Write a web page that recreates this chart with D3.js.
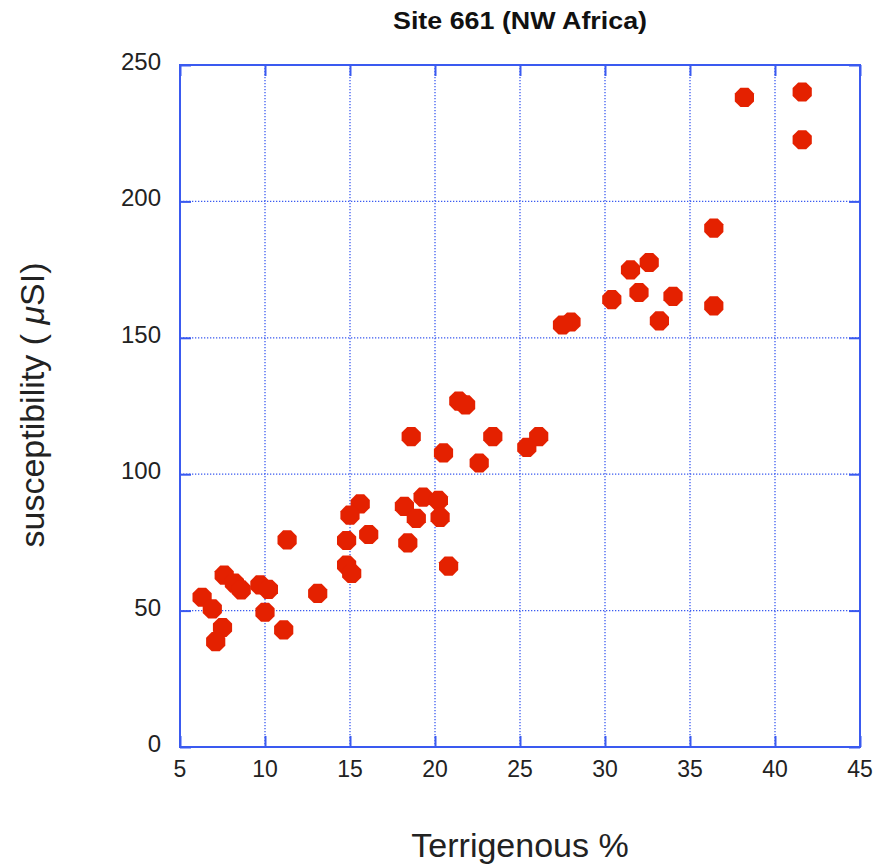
<!DOCTYPE html>
<html><head><meta charset="utf-8">
<script src="https://cdn.jsdelivr.net/npm/d3@7"></script>
<style>body{margin:0;background:#fff}</style>
</head><body>
<svg id="c" width="883" height="864"></svg>
<script>
const terrigenous = [41.6,41.6,38.2,36.4,36.4,32.6,31.5,32.0,34.0,30.4,33.2,28.0,27.5,
  21.4,21.8,18.6,23.4,26.1,25.4,20.5,22.6,19.3,20.2,15.6,18.2,15.0,18.9,20.3,16.1,14.8,18.4,11.3,
  14.8,15.1,20.8,7.6,8.2,8.6,9.7,10.2,6.3,6.9,10.0,13.1,11.1,7.5,7.1];
const susceptibility = [240.1,222.6,238.1,190.2,161.7,177.6,174.9,166.6,165.2,164.0,156.2,155.8,154.7,
  126.8,125.4,113.8,113.8,113.8,109.8,107.8,104.1,91.6,90.4,89.1,88.2,85.0,83.8,84.2,77.9,75.7,74.8,75.9,
  66.7,63.6,66.3,63.0,60.1,57.6,59.4,57.8,54.9,50.6,49.4,56.3,42.9,43.8,38.6];
const xTicks = [5,10,15,20,25,30,35,40,45];
const yTicks = [0,50,100,150,200,250];

const svg = d3.select("#c");
const L=180,R=860,T=65,B=747;
const x = d3.scaleLinear().domain([5,45]).range([L,R]);
const y = d3.scaleLinear().domain([0,250]).range([B,T]);
const blue = "#3a5af0";
const g = svg.append("g");
// grid
g.selectAll("line.vg").data(xTicks.slice(1,-1)).join("line")
  .attr("x1",d=>x(d)).attr("x2",d=>x(d)).attr("y1",T).attr("y2",B)
  .attr("stroke",blue).attr("stroke-width",1.3).attr("stroke-dasharray","1.3,1.7");
g.selectAll("line.hg").data(yTicks.slice(1,-1)).join("line")
  .attr("y1",d=>y(d)).attr("y2",d=>y(d)).attr("x1",L).attr("x2",R)
  .attr("stroke",blue).attr("stroke-width",1.3).attr("stroke-dasharray","1.3,1.7");
// axes with inward ticks
const ax = (gen, tr) => svg.append("g").attr("transform",tr).call(gen)
  .call(s=>{s.select(".domain").remove(); s.selectAll("line").attr("stroke",blue).attr("stroke-width",2); s.selectAll("text").remove();});
ax(d3.axisBottom(x).tickValues(xTicks).tickSize(-11),`translate(0,${B})`);
ax(d3.axisTop(x).tickValues(xTicks).tickSize(-11),`translate(0,${T})`);
ax(d3.axisLeft(y).tickValues(yTicks).tickSize(-11),`translate(${L},0)`);
ax(d3.axisRight(y).tickValues(yTicks).tickSize(-11),`translate(${R},0)`);
svg.append("rect").attr("x",L).attr("y",T).attr("width",R-L).attr("height",B-T)
  .attr("fill","none").attr("stroke",blue).attr("stroke-width",2);
// tick labels
const font = "Liberation Sans, Arial, Helvetica, sans-serif";
svg.selectAll("text.xl").data(xTicks).join("text")
  .attr("x",d=>x(d)).attr("y",B+30).attr("text-anchor","middle")
  .attr("font-family",font).attr("font-size",23).attr("fill","#222").text(d=>d);
svg.selectAll("text.yl").data(yTicks).join("text")
  .attr("x",L-19).attr("y",d=>y(d)+5).attr("text-anchor","end")
  .attr("font-family",font).attr("font-size",24).attr("fill","#222").text(d=>d);
// points (octagons)
const oct = d3.symbol().type({draw(ctx,size){const r=Math.sqrt(size);for(let i=0;i<8;i++){const a=Math.PI/8+i*Math.PI/4;const px=r*Math.cos(a),py=r*Math.sin(a);i?ctx.lineTo(px,py):ctx.moveTo(px,py);}ctx.closePath();}}).size(108);
svg.append("g").selectAll("path").data(terrigenous.map((t,i)=>[t,susceptibility[i]])).join("path")
  .attr("transform",d=>`translate(${x(d[0])},${y(d[1])})`).attr("d",oct)
  .attr("fill","#e42100");
// titles
svg.append("text").attr("x",520).attr("y",29).attr("text-anchor","middle")
  .attr("font-family",font).attr("font-weight","bold").attr("font-size",24).attr("fill","#111")
  .attr("textLength",254).attr("lengthAdjust","spacingAndGlyphs")
  .text("Site 661 (NW Africa)");
svg.append("text").attr("x",520).attr("y",857).attr("text-anchor","middle")
  .attr("font-family",font).attr("font-size",34).attr("fill","#222").text("Terrigenous %");
const yt = svg.append("text").attr("transform","translate(44,405) rotate(-90)").attr("text-anchor","middle")
  .attr("font-family",font).attr("font-size",34).attr("fill","#222");
yt.append("tspan").text("susceptibility ( ");
yt.append("tspan").attr("font-style","italic").text("μ");
yt.append("tspan").text("SI)");
</script>
</body></html>
